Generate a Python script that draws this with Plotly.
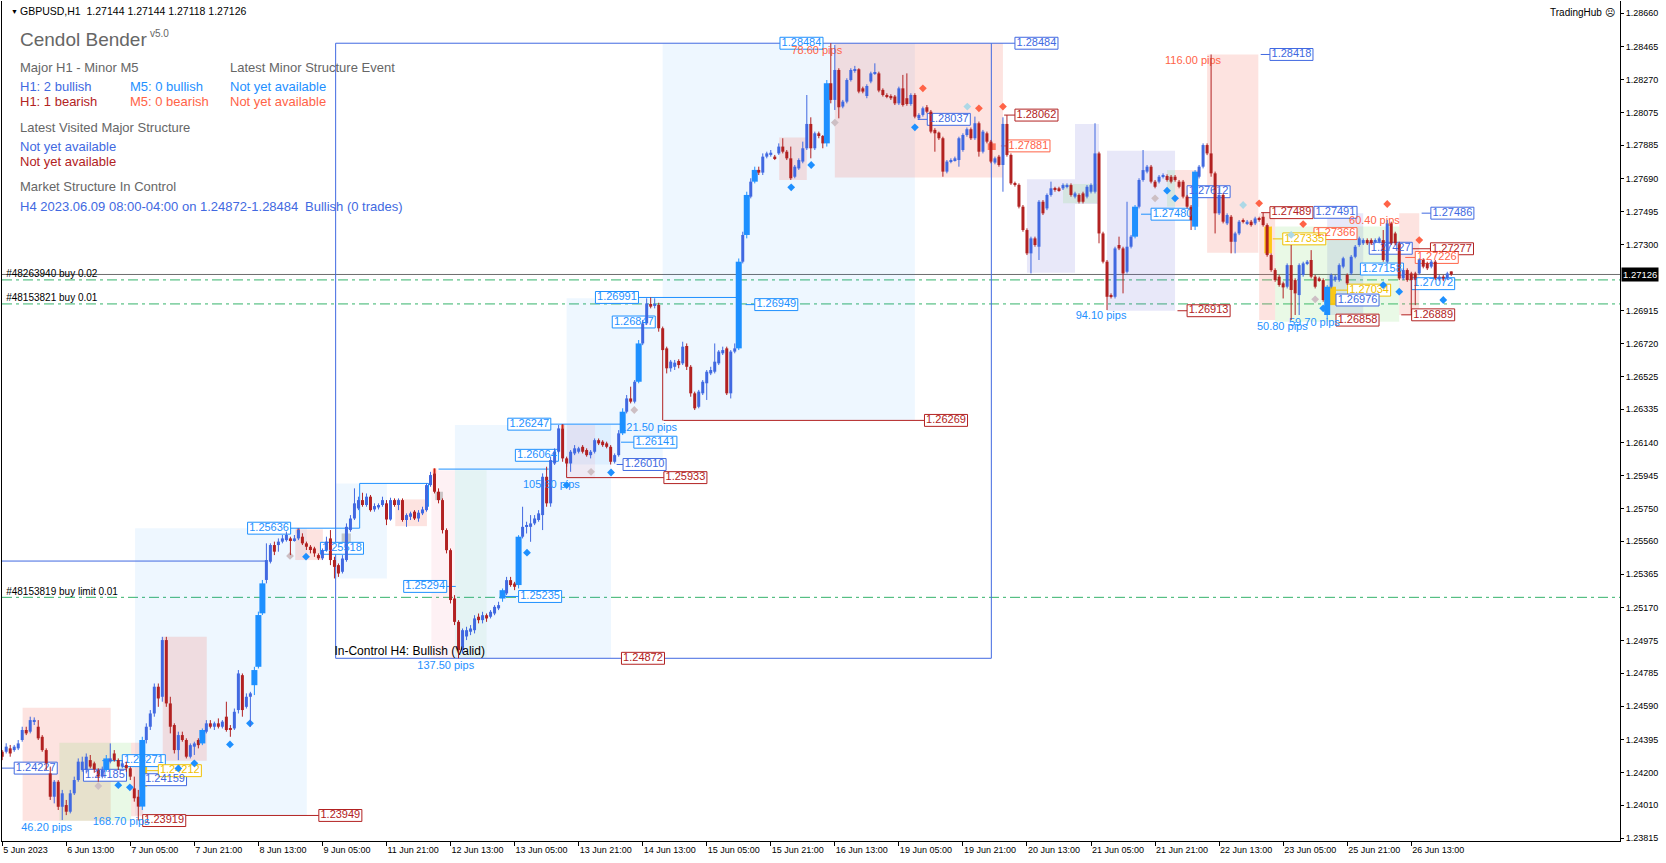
import plotly.graph_objects as go

# ---------------- candle data (H1 bars, 5 Jun 21:00 .. 26 Jun 23:00) ----------------
opens = [
1.24323,1.24323,1.24343,1.24333,1.24343,1.24392,1.24451,1.24441,1.24500,1.24470,
1.24411,1.24333,1.24196,1.24059,1.24147,1.24000,1.24010,1.23971,1.24079,1.24157,
1.24216,1.24216,1.24274,1.24255,1.24216,1.24177,1.24216,1.24265,1.24313,1.24274,
1.24236,1.24245,1.24226,1.24108,1.24059,1.24001,1.24392,1.24470,1.24548,1.24705,
1.24646,1.24979,1.24607,1.24480,1.24333,1.24421,1.24392,1.24294,1.24353,1.24392,
1.24372,1.24441,1.24490,1.24470,1.24490,1.24470,1.24529,1.24460,1.24460,1.24568,
1.24773,1.24587,1.24646,1.24714,1.24822,1.25136,1.25332,1.25439,1.25537,1.25537,
1.25557,1.25566,1.25576,1.25566,1.25576,1.25586,1.25547,1.25527,1.25517,1.25478,
1.25459,1.25508,1.25576,1.25449,1.25419,1.25380,1.25449,1.25625,1.25693,1.25752,
1.25801,1.25772,1.25821,1.25746,1.25758,1.25772,1.25782,1.25687,1.25801,1.25772,
1.25801,1.25684,1.25703,1.25733,1.25693,1.25723,1.25742,1.25889,1.25958,1.25850,
1.25801,1.25625,1.25507,1.25223,1.25086,1.24920,1.25000,1.25028,1.25037,1.25116,
1.25096,1.25125,1.25116,1.25135,1.25165,1.25223,1.25253,1.25331,1.25311,1.25302,
1.25586,1.25644,1.25644,1.25664,1.25684,1.25713,1.25938,1.25782,1.26016,1.26085,
1.26222,1.26046,1.26016,1.26075,1.26085,1.26114,1.26095,1.26065,1.26085,1.26153,
1.26144,1.26134,1.26114,1.26026,1.26065,1.26193,1.26320,1.26398,1.26379,1.26496,
1.26721,1.26839,1.26953,1.26941,1.26947,1.26810,1.26692,1.26575,1.26584,1.26618,
1.26604,1.26706,1.26584,1.26428,1.26349,1.26428,1.26487,1.26545,1.26555,1.26604,
1.26663,1.26692,1.26428,1.26673,1.26692,1.27201,1.27358,1.27583,1.27671,1.27740,
1.27724,1.27818,1.27828,1.27818,1.27837,1.27877,1.27847,1.27808,1.27700,1.27749,
1.27789,1.27867,1.28010,1.27867,1.27955,1.27939,1.27896,1.28249,1.28151,1.28327,
1.28112,1.28141,1.28268,1.28323,1.28331,1.28219,1.28174,1.28259,1.28304,1.28307,
1.28210,1.28180,1.28174,1.28171,1.28131,1.28219,1.28161,1.28127,1.28180,1.28043,
1.28063,1.28108,1.28082,1.27975,1.27959,1.27926,1.27730,1.27789,1.27798,1.27798,
1.27857,1.27945,1.27979,1.27926,1.28014,1.27847,1.27955,1.27906,1.27783,1.27818,
1.27769,1.28010,1.27828,1.27661,1.27652,1.27524,1.27387,1.27250,1.27338,1.27289,
1.27553,1.27514,1.27593,1.27632,1.27632,1.27632,1.27641,1.27651,1.27583,1.27593,
1.27602,1.27583,1.27612,1.27612,1.27837,1.27367,1.27201,1.27005,1.26995,1.27299,
1.27279,1.27142,1.27289,1.27348,1.27524,1.27681,1.27730,1.27759,1.27671,1.27671,
1.27700,1.27704,1.27700,1.27700,1.27671,1.27671,1.27583,1.27524,1.27407,1.27700,
1.27759,1.27886,1.27837,1.27720,1.27485,1.27593,1.27426,1.27465,1.27318,1.27367,
1.27446,1.27426,1.27436,1.27426,1.27455,1.27465,1.27416,1.27240,1.27152,1.27113,
1.27074,1.27054,1.27181,1.27093,1.27005,1.27123,1.27191,1.27211,1.27113,1.27103,
1.27093,1.26888,1.27054,1.27093,1.27093,1.27172,1.27123,1.27132,1.27230,1.27299,
1.27309,1.27328,1.27328,1.27318,1.27318,1.27328,1.27201,1.27426,1.27367,1.27309,
1.27103,1.27152,1.27132,1.27132,1.27132,1.27211,1.27191,1.27172,1.27201,1.27097,
1.27113,1.27103,1.27144]

highs = [
1.24333,1.24373,1.24363,1.24363,1.24392,1.24470,1.24470,1.24529,1.24525,1.24509,
1.24421,1.24343,1.24236,1.24157,1.24157,1.24099,1.24040,1.24099,1.24177,1.24284,
1.24294,1.24313,1.24304,1.24265,1.24226,1.24236,1.24304,1.24372,1.24333,1.24284,
1.24274,1.24265,1.24236,1.24177,1.24099,1.24411,1.24490,1.24568,1.24724,1.24724,
1.24998,1.24998,1.24646,1.24490,1.24441,1.24441,1.24402,1.24372,1.24382,1.24402,
1.24460,1.24509,1.24509,1.24500,1.24519,1.24509,1.24617,1.24480,1.24577,1.24803,
1.24783,1.24666,1.24675,1.24822,1.25146,1.25332,1.25547,1.25547,1.25557,1.25576,
1.25596,1.25616,1.25586,1.25596,1.25636,1.25606,1.25557,1.25537,1.25527,1.25488,
1.25517,1.25586,1.25625,1.25468,1.25429,1.25478,1.25664,1.25713,1.25870,1.25821,
1.25844,1.25840,1.25831,1.25782,1.25782,1.25821,1.25801,1.25815,1.25811,1.25811,
1.25811,1.25723,1.25733,1.25742,1.25742,1.25762,1.25899,1.25967,1.25987,1.25870,
1.25811,1.25635,1.25517,1.25243,1.25096,1.25047,1.25057,1.25067,1.25125,1.25135,
1.25145,1.25135,1.25155,1.25184,1.25204,1.25282,1.25350,1.25350,1.25321,1.25595,
1.25762,1.25674,1.25713,1.25713,1.25742,1.25958,1.25997,1.26056,1.26105,1.26242,
1.26247,1.26056,1.26095,1.26124,1.26114,1.26124,1.26105,1.26095,1.26163,1.26163,
1.26153,1.26144,1.26124,1.26075,1.26212,1.26340,1.26418,1.26467,1.26506,1.26741,
1.26859,1.26986,1.26991,1.26986,1.26960,1.26820,1.26702,1.26624,1.26624,1.26628,
1.26731,1.26721,1.26594,1.26438,1.26448,1.26506,1.26565,1.26584,1.26721,1.26682,
1.26702,1.26702,1.26682,1.26721,1.27220,1.27377,1.27612,1.27691,1.27759,1.27759,
1.27837,1.27847,1.27857,1.27828,1.27896,1.27926,1.27857,1.27877,1.27769,1.27808,
1.27906,1.28180,1.28049,1.27965,1.27965,1.27945,1.28268,1.28484,1.28474,1.28337,
1.28151,1.28278,1.28337,1.28351,1.28337,1.28229,1.28243,1.28317,1.28366,1.28317,
1.28219,1.28190,1.28184,1.28180,1.28229,1.28298,1.28307,1.28190,1.28190,1.28073,
1.28112,1.28121,1.28092,1.27985,1.27965,1.27935,1.27798,1.27808,1.27818,1.27935,
1.27955,1.27989,1.27989,1.28053,1.28024,1.27975,1.27965,1.27916,1.27818,1.27828,
1.28049,1.28062,1.27837,1.27671,1.27661,1.27534,1.27397,1.27348,1.27348,1.27563,
1.27563,1.27602,1.27671,1.27641,1.27641,1.27661,1.27661,1.27661,1.27612,1.27602,
1.27612,1.27651,1.27661,1.28014,1.27847,1.27377,1.27211,1.27015,1.27289,1.27348,
1.27289,1.27553,1.27358,1.27534,1.27691,1.27857,1.27769,1.27769,1.27681,1.27710,
1.27720,1.27714,1.27710,1.27710,1.27681,1.27681,1.27593,1.27534,1.27739,1.27769,
1.27896,1.27896,1.28418,1.27730,1.27632,1.27602,1.27485,1.27475,1.27377,1.27446,
1.27455,1.27446,1.27446,1.27465,1.27465,1.27489,1.27426,1.27250,1.27162,1.27123,
1.27084,1.27191,1.27299,1.27103,1.27191,1.27201,1.27211,1.27269,1.27123,1.27113,
1.27103,1.27064,1.27132,1.27123,1.27191,1.27230,1.27132,1.27240,1.27299,1.27348,
1.27338,1.27338,1.27338,1.27338,1.27348,1.27387,1.27446,1.27436,1.27377,1.27318,
1.27162,1.27162,1.27142,1.27142,1.27221,1.27221,1.27201,1.27211,1.27211,1.27123,
1.27123,1.27142,1.27144]

lows = [
1.24274,1.24313,1.24294,1.24323,1.24333,1.24382,1.24421,1.24431,1.24480,1.24392,
1.24323,1.24216,1.24040,1.24020,1.23981,1.23922,1.23951,1.23961,1.24069,1.24147,
1.24206,1.24196,1.24226,1.24200,1.24147,1.24167,1.24206,1.24255,1.24265,1.24216,
1.24226,1.24206,1.24157,1.24030,1.23919,1.23981,1.24372,1.24451,1.24529,1.24587,
1.24617,1.24587,1.24431,1.24313,1.24274,1.24382,1.24284,1.24284,1.24304,1.24343,
1.24362,1.24431,1.24460,1.24451,1.24460,1.24460,1.24441,1.24411,1.24451,1.24548,
1.24529,1.24577,1.24470,1.24656,1.24812,1.25126,1.25312,1.25429,1.25478,1.25498,
1.25547,1.25557,1.25478,1.25557,1.25566,1.25537,1.25508,1.25488,1.25468,1.25449,
1.25449,1.25498,1.25419,1.25341,1.25350,1.25370,1.25439,1.25615,1.25684,1.25742,
1.25762,1.25762,1.25733,1.25733,1.25746,1.25762,1.25654,1.25680,1.25762,1.25742,
1.25674,1.25644,1.25684,1.25684,1.25674,1.25713,1.25733,1.25879,1.25840,1.25782,
1.25605,1.25488,1.25194,1.25067,1.24872,1.24900,1.24979,1.25008,1.25018,1.25077,
1.25077,1.25086,1.25106,1.25125,1.25155,1.25204,1.25243,1.25292,1.25272,1.25282,
1.25576,1.25605,1.25556,1.25654,1.25674,1.25625,1.25762,1.25762,1.26007,1.26075,
1.26026,1.25997,1.25967,1.26065,1.26075,1.26075,1.26056,1.26046,1.26075,1.26124,
1.26114,1.26105,1.26010,1.26016,1.26056,1.26183,1.26310,1.26369,1.26369,1.26487,
1.26711,1.26829,1.26927,1.26927,1.26790,1.26269,1.26545,1.26555,1.26565,1.26575,
1.26594,1.26565,1.26408,1.26330,1.26340,1.26418,1.26389,1.26535,1.26545,1.26594,
1.26653,1.26418,1.26398,1.26663,1.26682,1.27191,1.27338,1.27573,1.27661,1.27710,
1.27710,1.27808,1.27818,1.27798,1.27828,1.27837,1.27798,1.27681,1.27691,1.27740,
1.27779,1.27857,1.27808,1.27857,1.27926,1.27867,1.27877,1.28131,1.28092,1.28043,
1.28102,1.28131,1.28259,1.28311,1.28190,1.28190,1.28161,1.28249,1.28298,1.28196,
1.28171,1.28161,1.28151,1.28121,1.28121,1.28112,1.28117,1.28117,1.28043,1.28033,
1.28053,1.28073,1.27955,1.27847,1.27916,1.27700,1.27720,1.27779,1.27789,1.27759,
1.27847,1.27935,1.27916,1.27916,1.27818,1.27837,1.27896,1.27779,1.27773,1.27759,
1.27612,1.27818,1.27652,1.27642,1.27514,1.27377,1.27240,1.27132,1.27289,1.27211,
1.27475,1.27504,1.27583,1.27612,1.27612,1.27622,1.27632,1.27583,1.27573,1.27543,
1.27543,1.27573,1.27602,1.27602,1.27309,1.27191,1.26917,1.26985,1.26985,1.27269,
1.27015,1.27132,1.27279,1.27338,1.27514,1.27671,1.27720,1.27661,1.27632,1.27661,
1.27690,1.27671,1.27661,1.27671,1.27632,1.27573,1.27514,1.27387,1.27387,1.27690,
1.27749,1.27827,1.27700,1.27367,1.27475,1.27426,1.27416,1.27250,1.27250,1.27357,
1.27426,1.27416,1.27407,1.27416,1.27436,1.27407,1.27230,1.27142,1.27083,1.27054,
1.26985,1.27044,1.26858,1.26888,1.26888,1.27113,1.27181,1.27103,1.27044,1.27083,
1.26966,1.26858,1.27044,1.27083,1.27083,1.27162,1.27064,1.27123,1.27221,1.27289,
1.27299,1.27299,1.27299,1.27309,1.27309,1.27201,1.27191,1.27299,1.27299,1.27093,
1.27093,1.27083,1.26888,1.26946,1.27123,1.27162,1.27152,1.27162,1.27093,1.27087,
1.27087,1.27093,1.27118]

closes = [
1.24294,1.24353,1.24313,1.24353,1.24372,1.24451,1.24431,1.24509,1.24510,1.24402,
1.24333,1.24255,1.24059,1.24147,1.24000,1.24079,1.23971,1.24079,1.24157,1.24265,
1.24265,1.24294,1.24236,1.24220,1.24177,1.24216,1.24284,1.24284,1.24274,1.24236,
1.24255,1.24226,1.24177,1.24050,1.24001,1.24392,1.24470,1.24548,1.24705,1.24636,
1.24979,1.24607,1.24470,1.24333,1.24421,1.24392,1.24294,1.24362,1.24372,1.24362,
1.24451,1.24490,1.24470,1.24490,1.24470,1.24500,1.24451,1.24451,1.24558,1.24783,
1.24568,1.24646,1.24666,1.24803,1.25126,1.25312,1.25449,1.25537,1.25498,1.25557,
1.25576,1.25596,1.25566,1.25576,1.25625,1.25547,1.25527,1.25508,1.25488,1.25459,
1.25508,1.25557,1.25449,1.25409,1.25370,1.25458,1.25644,1.25693,1.25782,1.25801,
1.25772,1.25821,1.25742,1.25766,1.25772,1.25801,1.25687,1.25801,1.25772,1.25801,
1.25684,1.25713,1.25723,1.25693,1.25727,1.25746,1.25889,1.25948,1.25850,1.25801,
1.25625,1.25507,1.25214,1.25086,1.24920,1.25037,1.25037,1.25047,1.25106,1.25096,
1.25125,1.25106,1.25145,1.25174,1.25184,1.25272,1.25331,1.25302,1.25292,1.25586,
1.25644,1.25654,1.25664,1.25693,1.25723,1.25938,1.25782,1.26036,1.26085,1.26222,
1.26046,1.26016,1.26085,1.26105,1.26105,1.26085,1.26065,1.26085,1.26153,1.26134,
1.26124,1.26114,1.26026,1.26065,1.26193,1.26320,1.26398,1.26379,1.26496,1.26721,
1.26839,1.26956,1.26937,1.26953,1.26810,1.26682,1.26575,1.26614,1.26608,1.26594,
1.26702,1.26584,1.26428,1.26340,1.26438,1.26496,1.26555,1.26565,1.26614,1.26673,
1.26682,1.26428,1.26673,1.26692,1.27201,1.27358,1.27593,1.27671,1.27740,1.27724,
1.27818,1.27837,1.27841,1.27808,1.27877,1.27847,1.27808,1.27691,1.27759,1.27798,
1.27867,1.28010,1.27867,1.27955,1.27939,1.27896,1.28249,1.28151,1.28327,1.28108,
1.28141,1.28268,1.28327,1.28331,1.28200,1.28200,1.28233,1.28307,1.28311,1.28206,
1.28180,1.28171,1.28161,1.28131,1.28219,1.28121,1.28127,1.28180,1.28053,1.28063,
1.28102,1.28082,1.27965,1.27955,1.27926,1.27730,1.27789,1.27798,1.27808,1.27926,
1.27945,1.27979,1.27926,1.28014,1.27847,1.27965,1.27906,1.27789,1.27808,1.27769,
1.28010,1.27828,1.27661,1.27652,1.27524,1.27387,1.27250,1.27338,1.27299,1.27553,
1.27485,1.27593,1.27632,1.27627,1.27622,1.27651,1.27651,1.27593,1.27602,1.27553,
1.27553,1.27641,1.27651,1.27837,1.27367,1.27201,1.26995,1.26995,1.27279,1.27279,
1.27132,1.27289,1.27348,1.27524,1.27681,1.27739,1.27759,1.27671,1.27641,1.27700,
1.27710,1.27681,1.27671,1.27681,1.27641,1.27583,1.27524,1.27446,1.27730,1.27759,
1.27886,1.27837,1.27720,1.27485,1.27593,1.27436,1.27475,1.27318,1.27367,1.27436,
1.27436,1.27436,1.27416,1.27455,1.27446,1.27416,1.27240,1.27152,1.27093,1.27064,
1.27050,1.27181,1.27035,1.27015,1.27181,1.27191,1.27201,1.27113,1.27054,1.27093,
1.26976,1.27054,1.27123,1.27113,1.27181,1.27221,1.27074,1.27230,1.27289,1.27338,
1.27328,1.27309,1.27309,1.27328,1.27338,1.27211,1.27426,1.27309,1.27309,1.27103,
1.27152,1.27093,1.27093,1.27093,1.27211,1.27172,1.27162,1.27201,1.27103,1.27113,
1.27097,1.27132,1.27126]

# bars painted in the bright (imbalance) colour
bright_bars = [26, 35, 50, 63, 64, 65, 125, 129, 155, 159, 184, 186, 188, 206, 283, 298, 331]

# ---------------- axes ----------------
x_tick_bars = [0, 16, 32, 48, 64, 80, 96, 112, 128, 144, 160, 176, 192, 208, 224, 240,
               256, 272, 288, 304, 320, 336, 352]
x_tick_labels = ["5 Jun 2023", "6 Jun 13:00", "7 Jun 05:00", "7 Jun 21:00", "8 Jun 13:00",
                 "9 Jun 05:00", "11 Jun 21:00", "12 Jun 13:00", "13 Jun 05:00", "13 Jun 21:00",
                 "14 Jun 13:00", "15 Jun 05:00", "15 Jun 21:00", "16 Jun 13:00", "19 Jun 05:00",
                 "19 Jun 21:00", "20 Jun 13:00", "21 Jun 05:00", "21 Jun 21:00", "22 Jun 13:00",
                 "23 Jun 05:00", "25 Jun 21:00", "26 Jun 13:00"]
y_tick_values = [1.28660, 1.28465, 1.28270, 1.28075, 1.27885, 1.27690, 1.27495, 1.27300,
                 1.26915, 1.26720, 1.26525, 1.26335, 1.26140, 1.25945, 1.25750, 1.25560,
                 1.25365, 1.25170, 1.24975, 1.24785, 1.24590, 1.24395, 1.24200, 1.24010, 1.23815]
current_price = 1.27126

ROYAL = "#4169E1"
DODGER = "#1E90FF"
FIRE = "#B22222"
TOMATO = "#FF6347"
GOLD = "#EFC000"
GREEN_LINE = "#34B36A"

# ---------------- zones ----------------
zone_blue = [(33.2, 76.1, 1.25636, 1.23949), (83.3, 96.1, 1.25899, 1.25341),
             (113.1, 152.1, 1.26242, 1.24872), (141.0, 165.0, 1.26986, 1.26010),
             (165.0, 228.0, 1.28484, 1.26269)]
zone_pink = [(5.1, 27.1, 1.24582, 1.23918), (40.1, 51.1, 1.24999, 1.24270),
             (32.2, 35.2, 1.24376, 1.23945), (73.2, 80.1, 1.25629, 1.25449),
             (98.2, 106.1, 1.25805, 1.25648), (194.1, 201.0, 1.27930, 1.27681),
             (208.0, 250.0, 1.28484, 1.27695), (301.0, 313.8, 1.28418, 1.27254),
             (293.0, 299.0, 1.27739, 1.27524), (314.0, 318.0, 1.27485, 1.26858),
             (349.0, 354.0, 1.27485, 1.26888)]
zone_pink_light = [(107.2, 113.1, 1.25977, 1.24872), (141.1, 148.1, 1.26242, 1.25928)]
zone_lav = [(256.0, 268.0, 1.27685, 1.27136), (268.0, 274.0, 1.28010, 1.27540),
            (276.0, 293.0, 1.27853, 1.26913), (331.0, 340.0, 1.27485, 1.26888)]
zone_green = [(14.3, 32.2, 1.24376, 1.23918), (265.0, 273.5, 1.27657, 1.27544),
              (291.0, 293.0, 1.27739, 1.27524), (318.0, 349.0, 1.27407, 1.26849)]
zone_green_light = [(113.1, 121.0, 1.25977, 1.24872)]
zone_gold = [(34.3, 36.2, 1.24294, 1.24118), (315.3, 317.2, 1.27407, 1.27250),
             (331.3, 333.2, 1.27054, 1.26946)]
zone_grey = [(84.8, 87.1, 1.25605, 1.25527), (108.2, 110.1, 1.25850, 1.25801)]
zone_tomato = [(107.6, 108.4, 1.25987, 1.25958), (139.6, 140.4, 1.26247, 1.26222),
               (73.6, 74.4, 1.25636, 1.25606), (246.2, 248.2, 1.27896, 1.27857)]
in_control_box = (83.3, 247.1, 1.28484, 1.24872)

# ---------------- structure lines ----------------
hsegs = [(-1, 3.0, 1.24227, ROYAL), (25.0, 30.0, 1.24271, DODGER), (36.2, 39.0, 1.24212, GOLD),
         (45.3, 79.1, 1.23949, FIRE), (-1, 66.0, 1.25443, ROYAL), (72.0, 89.3, 1.25636, DODGER),
         (89.3, 106.5, 1.25899, DODGER), (109.0, 136.5, 1.25983, DODGER),
         (110.8, 113.3, 1.25294, DODGER), (125.3, 129.0, 1.25235, DODGER),
         (137.0, 154.6, 1.26247, DODGER), (154.6, 157.8, 1.26141, DODGER),
         (153.5, 155.1, 1.26010, ROYAL), (141.0, 165.3, 1.25933, FIRE),
         (158.9, 183.6, 1.26991, DODGER), (185.7, 188.0, 1.26949, DODGER),
         (165.2, 230.4, 1.26269, FIRE), (247.1, 253.0, 1.28484, ROYAL),
         (228.7, 231.1, 1.28037, ROYAL), (249.5, 251.0, 1.27881, TOMATO),
         (250.3, 253.0, 1.28062, FIRE), (314.4, 316.7, 1.28418, ROYAL),
         (284.5, 287.0, 1.27480, DODGER), (293.6, 296.0, 1.26913, FIRE),
         (314.5, 316.7, 1.27489, FIRE), (354.6, 356.9, 1.27486, ROYAL),
         (317.4, 319.9, 1.27335, GOLD), (349.9, 356.8, 1.27277, FIRE),
         (350.5, 353.0, 1.27226, TOMATO), (349.5, 352.1, 1.26889, FIRE),
         (333.2, 336.1, 1.27034, GOLD)]
vsegs = [(89.3, 1.25636, 1.25899, DODGER), (106.5, 1.25762, 1.25899, DODGER),
         (141.0, 1.25933, 1.26046, FIRE)]

# ---------------- price labels: text, left bar, price, colour ----------------
labels = [("1.24227", 3.0, 1.24227, ROYAL), ("1.24185", 20.3, 1.24185, ROYAL),
          ("1.24271", 30.0, 1.24271, DODGER), ("1.24159", 35.3, 1.24159, ROYAL),
          ("1.24212", 39.0, 1.24212, GOLD), ("1.23919", 35.1, 1.23919, FIRE),
          ("1.23949", 79.1, 1.23949, FIRE), ("1.25636", 61.3, 1.25636, DODGER),
          ("1.25518", 79.5, 1.25518, DODGER), ("1.25294", 100.3, 1.25294, DODGER),
          ("1.25235", 129.0, 1.25235, DODGER), ("1.24872", 154.7, 1.24872, FIRE),
          ("1.26247", 126.3, 1.26247, DODGER), ("1.26064", 128.2, 1.26064, DODGER),
          ("1.26141", 157.8, 1.26141, DODGER), ("1.26010", 155.1, 1.26010, ROYAL),
          ("1.25933", 165.3, 1.25933, FIRE), ("1.26991", 148.2, 1.26991, DODGER),
          ("1.26847", 152.4, 1.26847, DODGER), ("1.26949", 188.0, 1.26949, DODGER),
          ("1.26269", 230.4, 1.26269, FIRE), ("1.28484", 194.3, 1.28484, DODGER),
          ("1.28037", 231.1, 1.28037, ROYAL), ("1.28484", 253.0, 1.28484, ROYAL),
          ("1.28062", 253.0, 1.28062, FIRE), ("1.27881", 251.0, 1.27881, TOMATO),
          ("1.28418", 316.7, 1.28418, ROYAL), ("1.27612", 296.0, 1.27612, ROYAL),
          ("1.27480", 287.0, 1.27480, DODGER), ("1.26913", 296.0, 1.26913, FIRE),
          ("1.27489", 316.7, 1.27489, FIRE), ("1.27491", 327.7, 1.27491, ROYAL),
          ("1.27486", 356.9, 1.27486, ROYAL), ("1.27366", 327.7, 1.27366, TOMATO),
          ("1.27335", 319.9, 1.27335, GOLD), ("1.27277", 356.8, 1.27277, FIRE),
          ("1.27427", 341.5, 1.27280, ROYAL), ("1.27226", 353.0, 1.27226, TOMATO),
          ("1.27158", 339.3, 1.27158, DODGER), ("1.27072", 352.1, 1.27072, DODGER),
          ("1.27034", 336.1, 1.27034, GOLD), ("1.26976", 333.2, 1.26976, ROYAL),
          ("1.26858", 333.2, 1.26858, FIRE), ("1.26889", 352.1, 1.26889, FIRE)]

pip_texts = [("46.20 pips", 11.1, 1.23876, DODGER), ("168.70 pips", 29.7, 1.23907, DODGER),
             ("137.50 pips", 110.8, 1.24824, DODGER), ("105.60 pips", 137.2, 1.25889, DODGER),
             ("121.50 pips", 161.5, 1.26222, DODGER), ("78.60 pips", 203.5, 1.28438, TOMATO),
             ("116.00 pips", 297.5, 1.28376, TOMATO), ("94.10 pips", 274.5, 1.26878, DODGER),
             ("60.40 pips", 342.8, 1.27440, TOMATO), ("50.80 pips", 319.8, 1.26815, DODGER),
             ("59.70 pips", 327.8, 1.26840, DODGER)]

orders = [("#48263940 buy 0.02", 1.27094), ("#48153821 buy 0.01", 1.26953),
          ("#48153819 buy limit 0.01", 1.25230)]

diamond_bars = [29.0, 31.9, 44.0, 48.0, 56.9, 61.9, 75.9, 131.1, 141.0, 152.1, 197.1, 202.1, 228.0,
                291, 293, 330, 345, 349, 360,
                24.0, 71.9, 147.1, 157.9, 208, 288, 328,
                230, 244, 250, 314, 325, 346, 354,
                241.1, 310, 322]
diamond_prices = [1.24127, 1.24114, 1.24225, 1.24255, 1.24366, 1.24490, 1.25469, 1.25492, 1.25889,
                  1.25963, 1.27638, 1.27769, 1.27990, 1.27618, 1.27573, 1.26927, 1.27064, 1.27025,
                  1.26976,
                  1.24122, 1.25473, 1.25967, 1.26330, 1.28018, 1.27573, 1.26980,
                  1.28219, 1.28102, 1.28112, 1.27544, 1.27422, 1.27540, 1.27328,
                  1.28112, 1.27534, 1.27358]
diamond_colors = [DODGER] * 19 + ["#CDBFC4"] * 7 + [TOMATO] * 7 + ["#ADD8E6"] * 3

# ---------------- build figure ----------------
FONT = "Liberation Sans, Arial, sans-serif"
n = min(len(opens), len(highs), len(lows), len(closes))
fig = go.Figure()
shapes = []


def add_rects(lst, fill):
    for (a, b, top, bot) in lst:
        shapes.append(dict(type="rect", xref="x", yref="y", x0=a, x1=b, y0=bot, y1=top,
                           fillcolor=fill, line=dict(width=0), layer="below"))


add_rects(zone_blue, "rgba(30,144,255,0.075)")
add_rects(zone_pink_light, "rgba(250,120,150,0.10)")
add_rects(zone_green_light, "rgba(120,200,120,0.08)")
add_rects(zone_pink, "rgba(248,128,114,0.22)")
add_rects(zone_lav, "rgba(110,110,220,0.16)")
add_rects(zone_green, "rgba(120,220,100,0.16)")
add_rects(zone_gold, "rgba(255,196,0,0.9)")
add_rects(zone_grey, "rgba(160,160,160,0.55)")
add_rects(zone_tomato, "rgba(255,99,71,0.85)")

a, b, top, bot = in_control_box
shapes.append(dict(type="rect", xref="x", yref="y", x0=a, x1=b, y0=bot, y1=top,
                   line=dict(color=ROYAL, width=1), fillcolor="rgba(0,0,0,0)", layer="below"))

# full width order / price lines
shapes.append(dict(type="line", xref="paper", yref="y", x0=0, x1=1, y0=current_price,
                   y1=current_price, line=dict(color="#6E6E6E", width=1), layer="below"))
for _, p in orders:
    shapes.append(dict(type="line", xref="paper", yref="y", x0=0, x1=1, y0=p, y1=p,
                       line=dict(color=GREEN_LINE, width=1, dash="10px,4px,3px,4px"),
                       layer="below"))

for (a, b, p, col) in hsegs:
    shapes.append(dict(type="line", xref="x", yref="y", x0=a, x1=b, y0=p, y1=p,
                       line=dict(color=col, width=1), layer="below"))
for (xx, p0, p1, col) in vsegs:
    shapes.append(dict(type="line", xref="x", yref="y", x0=xx, x1=xx, y0=p0, y1=p1,
                       line=dict(color=col, width=1), layer="below"))

LABEL_W = 10.75      # bars
LABEL_H = 0.00035    # half height in price
for (t, xl, p, col) in labels:
    shapes.append(dict(type="rect", xref="x", yref="y", x0=xl, x1=xl + LABEL_W,
                       y0=p - LABEL_H, y1=p + LABEL_H, fillcolor="white",
                       line=dict(color=col, width=1), layer="below"))

# label texts (drawn under the candles like the terminal does)
fig.add_trace(go.Scatter(x=[l[1] + LABEL_W / 2 for l in labels], y=[l[2] for l in labels],
                         text=[l[0] for l in labels], mode="text", textposition="middle center",
                         textfont=dict(family=FONT, size=11, color=[l[3] for l in labels]),
                         hoverinfo="skip"))
fig.add_trace(go.Scatter(x=[p[1] for p in pip_texts], y=[p[2] for p in pip_texts],
                         text=[p[0] for p in pip_texts], mode="text", textposition="middle center",
                         textfont=dict(family=FONT, size=11, color=[p[3] for p in pip_texts]),
                         hoverinfo="skip"))
fig.add_trace(go.Scatter(x=[in_control_box[0] - 0.3], y=[in_control_box[3]],
                         text=["In-Control H4: Bullish (Valid)"], mode="text",
                         textposition="top right",
                         textfont=dict(family=FONT, size=12, color="black"), hoverinfo="skip"))
fig.add_trace(go.Scatter(x=[1.0] * len(orders), y=[o[1] for o in orders],
                         text=[o[0] for o in orders], mode="text", textposition="top right",
                         textfont=dict(family=FONT, size=10, color="black"), hoverinfo="skip"))

# diamonds
fig.add_trace(go.Scatter(x=diamond_bars, y=diamond_prices, mode="markers",
                         marker=dict(symbol="diamond", size=6, color=diamond_colors,
                                     line=dict(width=0)), hoverinfo="skip"))

# candles: wicks
groups = {ROYAL: ([], []), FIRE: ([], []), DODGER: ([], [])}
colors, widths, bases, heights = [], [], [], []
for i in range(n):
    o, h, l, c = opens[i], highs[i], lows[i], closes[i]
    if i in bright_bars:
        col, w = DODGER, 1.5
    elif c >= o:
        col, w = ROYAL, 0.75
    else:
        col, w = FIRE, 0.75
    colors.append(col)
    widths.append(w)
    lo_b, hi_b = min(o, c), max(o, c)
    if hi_b - lo_b < 0.00006:
        mid = (hi_b + lo_b) / 2
        lo_b, hi_b = mid - 0.00003, mid + 0.00003
    bases.append(lo_b)
    heights.append(hi_b - lo_b)
    gx, gy = groups[col]
    gx += [i, i, None]
    gy += [l, h, None]

for col, (gx, gy) in groups.items():
    fig.add_trace(go.Scatter(x=gx, y=gy, mode="lines", line=dict(color=col, width=1),
                             hoverinfo="skip"))

fig.add_trace(go.Bar(x=list(range(n)), y=heights, base=bases, width=widths,
                     marker=dict(color=colors, line=dict(width=0)), hoverinfo="skip"))

# ---------------- panel texts (fixed to the chart window) ----------------
GREY = "#666666"
panel = [
    ("\u25bc", 9, 11, 7, "black"),
    ("GBPUSD,H1\u00a0 1.27144 1.27144 1.27118 1.27126", 18, 11, 10.5, "black"),
    ("Cendol Bender", 18, 39, 19, GREY),
    ("v5.0", 148, 33, 10, GREY),
    ("Major H1 - Minor M5", 18, 67, 13, GREY),
    ("Latest Minor Structure Event", 228, 67, 13, GREY),
    ("H1: 2 bullish", 18, 86, 13, ROYAL),
    ("M5: 0 bullish", 128, 86, 13, DODGER),
    ("Not yet available", 228, 86, 13, DODGER),
    ("H1: 1 bearish", 18, 101, 13, FIRE),
    ("M5: 0 bearish", 128, 101, 13, TOMATO),
    ("Not yet available", 228, 101, 13, TOMATO),
    ("Latest Visited Major Structure", 18, 127, 13, GREY),
    ("Not yet available", 18, 146, 13, ROYAL),
    ("Not yet available", 18, 161, 13, FIRE),
    ("Market Structure In Control", 18, 186, 13, GREY),
    ("H4 2023.06.09 08:00-04:00 on 1.24872-1.28484", 18, 206, 13, ROYAL),
    ("Bullish (0 trades)", 303, 206, 13, ROYAL),
]
annotations = []
for (t, px, py, sz, col) in panel:
    annotations.append(dict(text=t, xref="paper", yref="paper", x=0, y=1, xanchor="left",
                            yanchor="middle", xshift=px - 2, yshift=-(py - 1), showarrow=False,
                            font=dict(family=FONT, size=sz, color=col)))
annotations.append(dict(text="TradingHub \u2639", xref="paper", yref="paper", x=1, y=1,
                        xanchor="right", yanchor="middle", xshift=-3, yshift=-11,
                        showarrow=False, font=dict(family=FONT, size=10, color="black")))
annotations.append(dict(text=f"{current_price:.5f}", xref="paper", yref="y", x=1, y=current_price,
                        xanchor="left", yanchor="middle", xshift=1, showarrow=False,
                        bgcolor="black", borderpad=1,
                        font=dict(family=FONT, size=9.5, color="white")))

fig.update_layout(
    width=1666, height=863,
    margin=dict(l=2, r=46, t=1, b=22),
    paper_bgcolor="white", plot_bgcolor="white",
    showlegend=False, barmode="overlay",
    shapes=shapes, annotations=annotations,
    font=dict(family=FONT, color="black"),
    xaxis=dict(range=[-0.05, 404.15], showgrid=False, zeroline=False,
               tickmode="array", tickvals=x_tick_bars, ticktext=x_tick_labels,
               ticks="outside", ticklen=4, tickcolor="black",
               ticklabelposition="outside right",
               tickfont=dict(family=FONT, size=9, color="black"),
               showline=True, linecolor="black", linewidth=1),
    yaxis=dict(range=[1.23799, 1.28732], side="right", showgrid=False, zeroline=False,
               tickmode="array", tickvals=y_tick_values,
               ticktext=[f"{v:.5f}" for v in y_tick_values],
               ticks="outside", ticklen=3, tickcolor="black",
               tickfont=dict(family=FONT, size=9, color="black"),
               showline=True, linecolor="black", linewidth=1, mirror=True),
)

fig.write_html("out.html", config={"displayModeBar": False},
               post_script="document.body.style.margin='0px';"
                           "document.body.style.overflow='hidden';")
